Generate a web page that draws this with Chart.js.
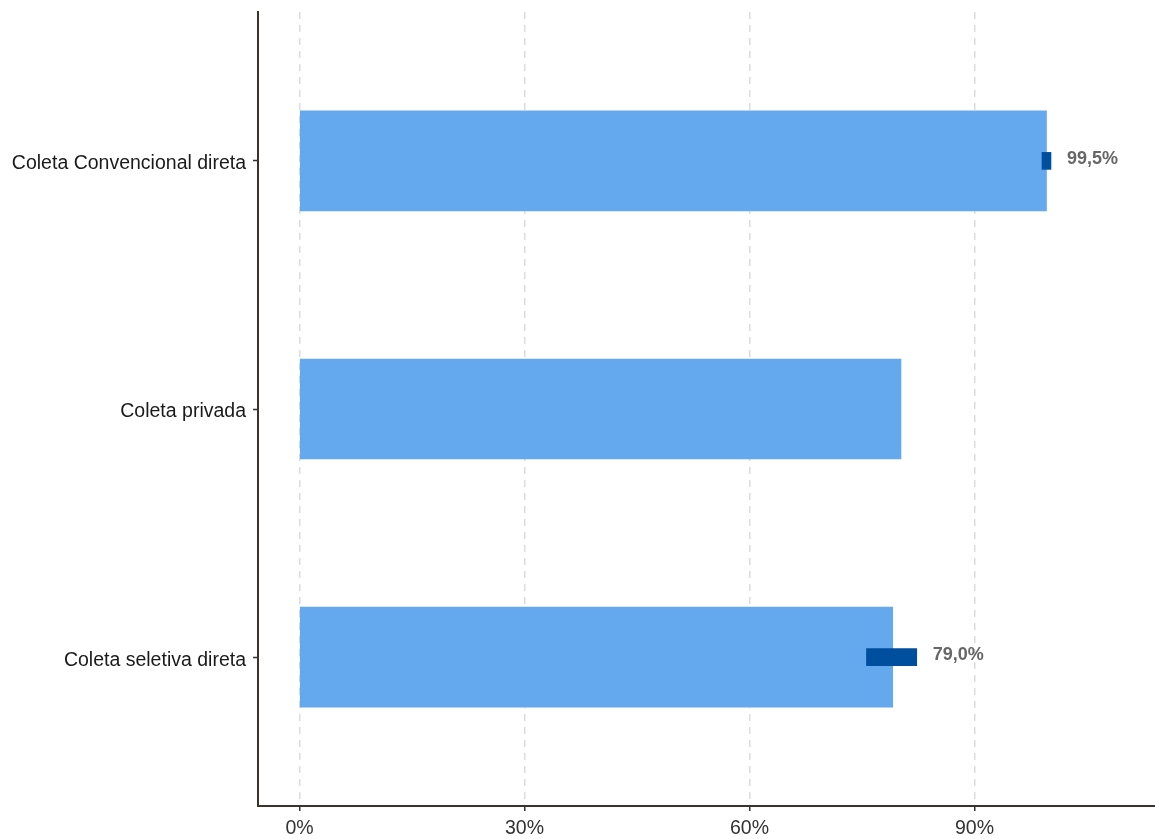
<!DOCTYPE html>
<html>
<head>
<meta charset="utf-8">
<script src="https://cdn.jsdelivr.net/npm/chart.js@4/dist/chart.umd.min.js"></script>
<style>
    body { margin: 0; background: #fff; }
    canvas { display: block; }
</style>
</head>
<body>
<canvas id="coletaChart" width="1155" height="839"></canvas>
<script>
// chart data
const categories = ['Coleta Convencional direta', 'Coleta privada', 'Coleta seletiva direta'];
const coverage = [99.6, 80.2, 79.1];
const errLow = [99.0, null, 75.6];
const errHigh = [100.2, null, 82.3];
const valueLabels = ['99,5%', null, '79,0%'];
const xTicks = [0, 30, 60, 90];

const fontFamily = '"Liberation Sans", Arial, sans-serif';

// numeric y positions so the axis can have ggplot-like padding
const barData = coverage.map((v, i) => ({ x: v, y: i + 1 }));
const errData = errLow.map((lo, i) => (lo === null ? null : { x: [lo, errHigh[i]], y: i + 1 })).filter(d => d);

const valueLabelPlugin = {
    id: 'valueLabels',
    afterDatasetsDraw(chart) {
        const { ctx, scales: { x, y } } = chart;
        ctx.save();
        ctx.font = 'bold 18px ' + fontFamily;
        ctx.fillStyle = '#666666';
        ctx.textAlign = 'left';
        ctx.textBaseline = 'middle';
        valueLabels.forEach((txt, i) => {
            if (!txt) return;
            ctx.fillText(txt, x.getPixelForValue(errHigh[i]) + 16, y.getPixelForValue(i + 1) - 2);
        });
        ctx.restore();
    }
};

new Chart(document.getElementById('coletaChart'), {
    type: 'bar',
    data: {
        datasets: [
            {
                label: 'Cobertura',
                data: barData,
                backgroundColor: '#64a8ee',
                barThickness: 100,
                grouped: false,
                order: 2
            },
            {
                label: 'Intervalo',
                data: errData,
                backgroundColor: '#004f9f',
                barThickness: 17,
                grouped: false,
                order: 1
            }
        ]
    },
    options: {
        indexAxis: 'y',
        responsive: false,
        animation: false,
        layout: { padding: { top: 12, right: 0, left: 0, bottom: 0 } },
        plugins: {
            legend: { display: false },
            tooltip: { enabled: false }
        },
        scales: {
            x: {
                type: 'linear',
                min: -5.53,
                max: 114.07,
                afterBuildTicks: scale => { scale.ticks = xTicks.map(v => ({ value: v })); },
                afterFit: scale => { scale.height = 33; scale.paddingLeft = 0; scale.paddingRight = 0; },
                grid: {
                    color: '#dcdcdc',
                    lineWidth: 1.5,
                    tickColor: '#333333',
                    tickWidth: 1.5,
                    tickLength: 5
                },
                border: { color: '#3a322d', width: 2, dash: [7, 6] },
                ticks: {
                    padding: 6,
                    color: '#333333',
                    font: { family: fontFamily, size: 19.5 },
                    callback: v => v + '%'
                }
            },
            y: {
                type: 'linear',
                reverse: true,
                offset: false,
                min: 0.4,
                max: 3.6,
                afterBuildTicks: scale => { scale.ticks = categories.map((c, i) => ({ value: i + 1 })); },
                afterFit: scale => { scale.width = 258; scale.paddingTop = 0; scale.paddingBottom = 0; },
                grid: {
                    offset: false,
                    drawOnChartArea: false,
                    tickColor: '#333333',
                    tickWidth: 1.5,
                    tickLength: 5
                },
                border: { color: '#3a322d', width: 2 },
                ticks: {
                    padding: 7,
                    labelOffset: 3,
                    color: '#1a1a1a',
                    font: { family: fontFamily, size: 19.5 },
                    callback: v => categories[v - 1] || ''
                }
            }
        }
    },
    plugins: [valueLabelPlugin]
});
</script>
</body>
</html>
